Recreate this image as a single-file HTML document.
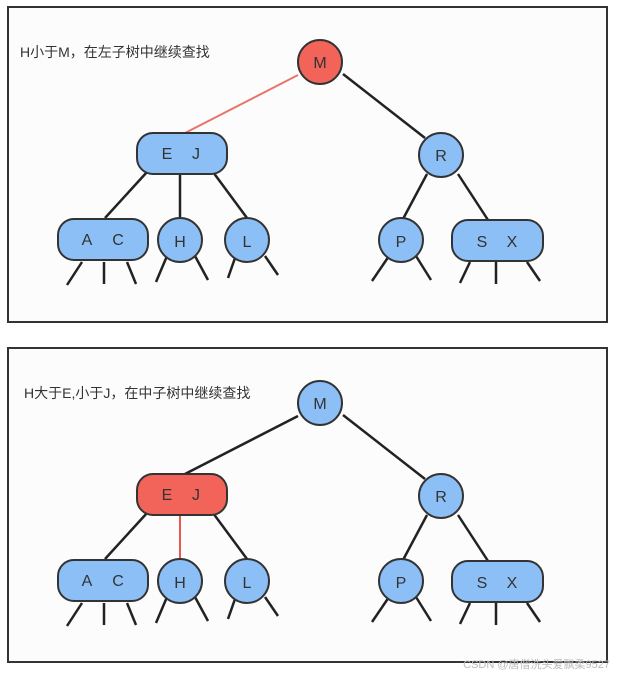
<!DOCTYPE html>
<html><head><meta charset="utf-8"><style>
html,body{margin:0;padding:0;background:#fff;width:620px;height:675px;overflow:hidden}
svg{display:block}
text{font-family:"Liberation Sans","Noto Sans CJK SC",sans-serif}
</style></head><body>
<svg width="620" height="675" viewBox="0 0 620 675" xmlns="http://www.w3.org/2000/svg">
<defs>
<g id="tree-base">
  <!-- leaf lines -->
  <g stroke="#222" stroke-width="2.5" fill="none">
    <line x1="82" y1="262" x2="67" y2="285"/><line x1="104" y1="262" x2="104" y2="284"/><line x1="127" y1="262" x2="136" y2="284"/>
    <line x1="167" y1="256" x2="156" y2="282"/><line x1="195" y1="256" x2="208" y2="280"/>
    <line x1="235" y1="258" x2="228" y2="278"/><line x1="265" y1="256" x2="278" y2="275"/>
    <line x1="389" y1="256" x2="372" y2="281"/><line x1="416" y1="256" x2="431" y2="280"/>
    <line x1="470" y1="262" x2="460" y2="283"/><line x1="496" y1="262" x2="496" y2="284"/><line x1="527" y1="262" x2="540" y2="281"/>
    <line x1="147" y1="172" x2="105" y2="218"/><line x1="213" y1="172" x2="247" y2="218"/>
    <line x1="343" y1="74" x2="425" y2="138"/>
    <line x1="427" y1="174" x2="403" y2="219"/><line x1="458" y1="174" x2="488" y2="220"/>
  </g>
  <g stroke="#333" stroke-width="2" fill="#8cbff5">
    <circle cx="441" cy="155" r="22"/>
    <rect x="58" y="219" width="90" height="41" rx="16"/>
    <circle cx="180" cy="240" r="22"/>
    <circle cx="247" cy="240" r="22"/>
    <circle cx="401" cy="240" r="22"/>
    <rect x="452" y="220" width="91" height="41" rx="16"/>
  </g>
  <g font-size="16" fill="#333" text-anchor="middle">
    <text x="441" y="161">R</text>
    <text x="87" y="245">A</text><text x="118" y="245">C</text>
    <text x="180" y="247">H</text><text x="247" y="247">L</text><text x="401" y="247">P</text>
    <text x="482" y="247">S</text><text x="512" y="247">X</text>
  </g>
</g>
</defs>

<!-- Top panel -->
<rect x="8" y="7" width="599" height="315" fill="#fcfcfc" stroke="#333" stroke-width="2"/>
<text x="20" y="57" font-size="14" fill="#333">H小于M，在左子树中继续查找</text>
<line x1="180" y1="174" x2="180" y2="218" stroke="#222" stroke-width="2.5"/>
<line x1="298" y1="75" x2="185" y2="133" stroke="#e8756a" stroke-width="2"/>
<use href="#tree-base"/>
<circle cx="320" cy="62" r="22" fill="#f2645a" stroke="#333" stroke-width="2"/>
<text x="320" y="68" font-size="16" fill="#333" text-anchor="middle">M</text>
<rect x="137" y="133" width="90" height="41" rx="16" fill="#8cbff5" stroke="#333" stroke-width="2"/>
<text x="167" y="159" font-size="16" fill="#333" text-anchor="middle">E</text>
<text x="196" y="159" font-size="16" fill="#333" text-anchor="middle">J</text>

<!-- Bottom panel -->
<rect x="8" y="348" width="599" height="314" fill="#fcfcfc" stroke="#333" stroke-width="2"/>
<g transform="translate(0,341)">
  <text x="24" y="57" font-size="14" fill="#333">H大于E,小于J，在中子树中继续查找</text>
  <line x1="180" y1="174" x2="180" y2="218" stroke="#e8584c" stroke-width="2"/>
  <line x1="298" y1="75" x2="185" y2="133" stroke="#222" stroke-width="2.5"/>
  <use href="#tree-base"/>
  <circle cx="320" cy="62" r="22" fill="#8cbff5" stroke="#333" stroke-width="2"/>
  <text x="320" y="68" font-size="16" fill="#333" text-anchor="middle">M</text>
  <rect x="137" y="133" width="90" height="41" rx="16" fill="#f2645a" stroke="#333" stroke-width="2"/>
  <text x="167" y="159" font-size="16" fill="#333" text-anchor="middle">E</text>
  <text x="196" y="159" font-size="16" fill="#333" text-anchor="middle">J</text>
</g>
<text x="610" y="668" font-size="11" fill="#bbb" text-anchor="end">CSDN @唐僧洗头爱飘柔9527</text>
</svg>
</body></html>
